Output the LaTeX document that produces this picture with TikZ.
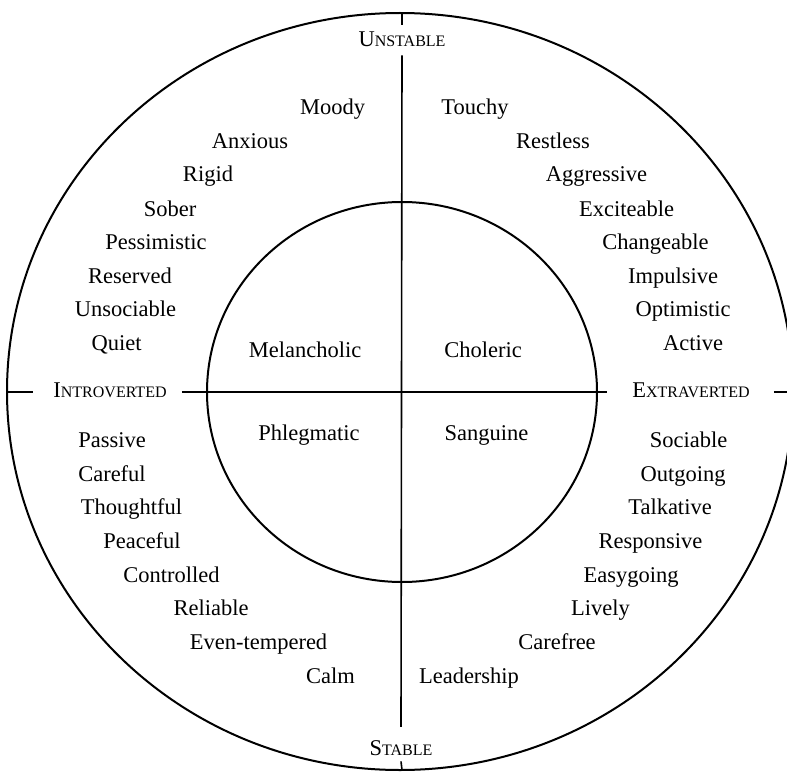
\documentclass[tikz,border=0pt]{standalone}
\usepackage{fontspec}
\setmainfont{Liberation Serif}
\newcommand\myfsc[2]{#1{\fontsize{16}{20}\selectfont #2}}
\begin{document}
\begin{tikzpicture}[x=1pt,y=-1pt,
  word/.style={font=\fontsize{22.5}{27}\selectfont, inner sep=0pt, anchor=base},
  hlabel/.style={font=\fontsize{22.5}{27}\selectfont, inner sep=0pt, anchor=center, text height=12pt, text depth=2pt},
  ring/.style={line width=2pt},
  axisline/.style={line width=1.6pt}]
\useasboundingbox (0,0) rectangle (787,773);
% circles
\draw[ring] (400,391.5) ellipse [x radius=393, y radius=378.5];
\draw[ring] (402,392) ellipse [x radius=195, y radius=190];
% ends of the axes on the outer circle
\coordinate (W) at (7,392);
\coordinate (E) at (793,392);
\coordinate (N) at (402,13);
\coordinate (S) at (402,770);
% axis labels
\node[word] (unst) at (402,47) {\myfsc{U}{NSTABLE}};
\node[word] (stab) at (401,755) {\myfsc{S}{TABLE}};
\node[hlabel] (intro) at (110,392) {\myfsc{I}{NTROVERTED}};
\node[hlabel] (extra) at (691,392) {\myfsc{E}{XTRAVERTED}};
% axes
\draw[axisline] (N) -- ([yshift=7pt]unst.north);
\draw[axisline] ([yshift=-8pt]unst.south) -- ([yshift=13pt]stab.north);
\draw[axisline] ([yshift=-6pt]stab.south) -- (S);
\draw[axisline] (W) -- ([xshift=-20pt]intro.west);
\draw[axisline] ([xshift=15pt]intro.east) -- ([xshift=-25pt]extra.west);
\draw[axisline] ([xshift=24pt]extra.east) -- (E);
% inner temperaments
\node[word] (mel) at (305,357) {Melancholic};
\node[word] (cho) at (483,357) {Choleric};
\node[word] (phl) at (309,440) {Phlegmatic};
\node[word] (san) at (486.5,440) {Sanguine};
% upper left
\node[word] (ul1) at (332.5,115) {Moody};
\node[word] (ul2) at (250,148.5) {Anxious};
\node[word] (ul3) at (208,182) {Rigid};
\node[word] (ul4) at (170,216) {Sober};
\node[word] (ul5) at (156,249.5) {Pessimistic};
\node[word] (ul6) at (130,283) {Reserved};
\node[word] (ul7) at (125.5,316.5) {Unsociable};
\node[word] (ul8) at (116.7,350) {Quiet};
% upper right
\node[word] (ur1) at (475,115) {Touchy};
\node[word] (ur2) at (553,148.5) {Restless};
\node[word] (ur3) at (596.5,182) {Aggressive};
\node[word] (ur4) at (626.5,216) {Exciteable};
\node[word] (ur5) at (655.5,249.5) {Changeable};
\node[word] (ur6) at (673,283) {Impulsive};
\node[word] (ur7) at (683,316.5) {Optimistic};
\node[word] (ur8) at (693,350) {Active};
% lower left
\node[word] (ll1) at (112,447) {Passive};
\node[word] (ll2) at (112,481) {Careful};
\node[word] (ll3) at (131.5,514) {Thoughtful};
\node[word] (ll4) at (142,548) {Peaceful};
\node[word] (ll5) at (171.5,582) {Controlled};
\node[word] (ll6) at (211,615) {Reliable};
\node[word] (ll7) at (258.5,649) {Even-tempered};
\node[word] (ll8) at (330.5,683) {Calm};
% lower right
\node[word] (lr1) at (688.5,447) {Sociable};
\node[word] (lr2) at (683,481) {Outgoing};
\node[word] (lr3) at (670,514) {Talkative};
\node[word] (lr4) at (650.5,548) {Responsive};
\node[word] (lr5) at (631,582) {Easygoing};
\node[word] (lr6) at (600.5,615) {Lively};
\node[word] (lr7) at (557,649) {Carefree};
\node[word] (lr8) at (469,683) {Leadership};
\end{tikzpicture}
\end{document}
